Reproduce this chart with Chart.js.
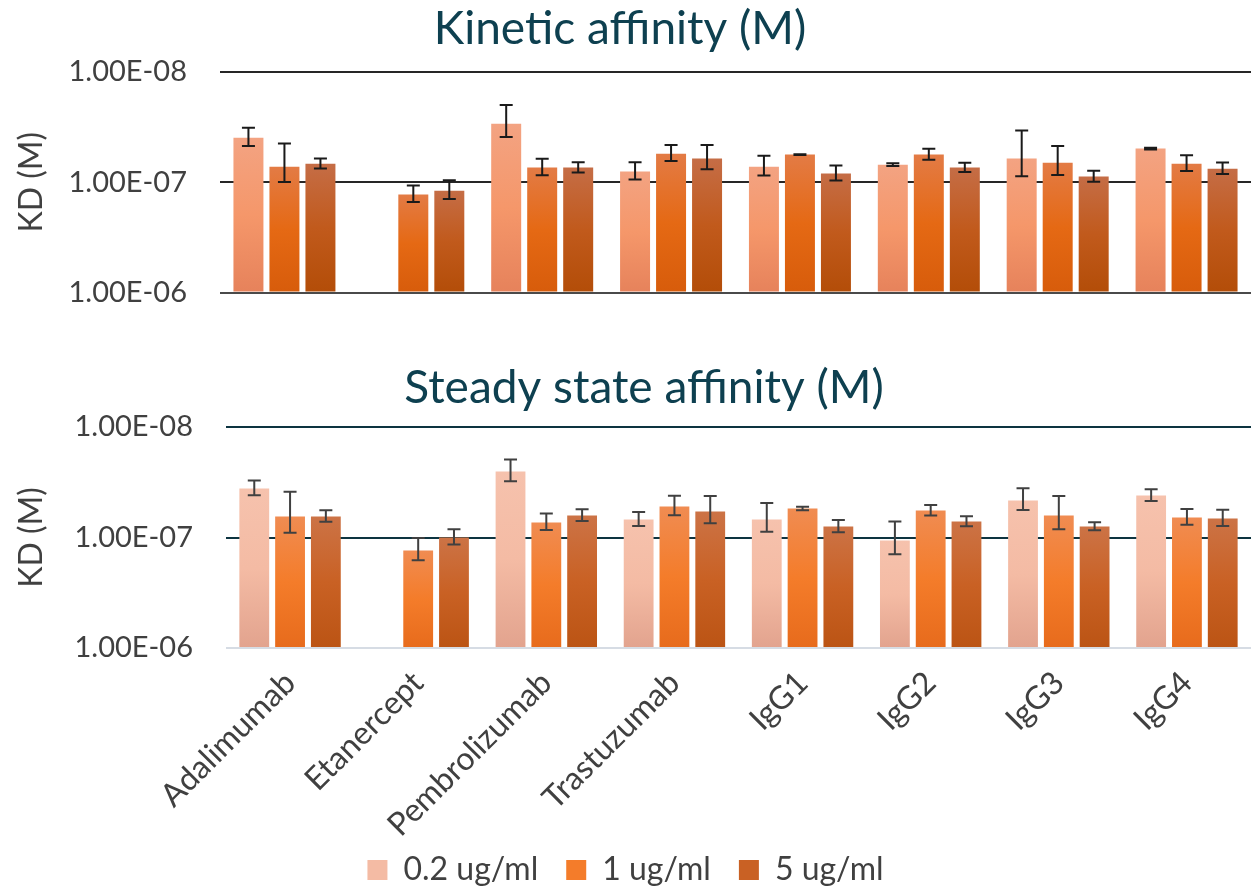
<!DOCTYPE html>
<html>
<head>
<meta charset="utf-8">
<script src="https://cdn.jsdelivr.net/npm/chart.js@4.4.1/dist/chart.umd.min.js"></script>
<style>
  html, body { margin: 0; padding: 0; background: #fff; overflow: hidden; }
  #wrap { position: relative; width: 1251px; height: 886px; overflow: hidden; }
  canvas { position: absolute; left: 0; }
  #kinetic { top: 0; }
  #steady { top: 330px; }
</style>
</head>
<body>
<div id="wrap">
  <canvas id="kinetic" width="1251" height="343"></canvas>
  <canvas id="steady" width="1251" height="566"></canvas>
</div>
<script>
// categories and series
const categories = ['Adalimumab', 'Etanercept', 'Pembrolizumab', 'Trastuzumab', 'IgG1', 'IgG2', 'IgG3', 'IgG4'];
const seriesLabels = ['0.2 ug/ml', '1 ug/ml', '5 ug/ml'];

// y axis ticks (KD in M, log scale, reversed)
const yTickValues = [1e-8, 1e-7, 1e-6];
const yTickLabels = ['1.00E-08', '1.00E-07', '1.00E-06'];

// Kinetic affinity KD values and errors
const kinetic02 = [3.94e-8, null, 2.94e-8, 8.0e-8, 7.21e-8, 6.92e-8, 6.1e-8, 4.95e-8];
const kinetic02Err = [0.74e-8, null, 0.95e-8, 1.43e-8, 1.45e-8, 0.2e-8, 2.7e-8, 0.1e-8];
const kinetic1 = [7.21e-8, 1.29e-7, 7.36e-8, 5.5e-8, 5.61e-8, 5.61e-8, 6.64e-8, 6.78e-8];
const kinetic1Err = [2.75e-8, 2.2e-8, 1.25e-8, 0.9e-8, 0.05e-8, 0.64e-8, 1.95e-8, 1.1e-8];
const kinetic5 = [6.78e-8, 1.19e-7, 7.36e-8, 6.1e-8, 8.34e-8, 7.36e-8, 8.87e-8, 7.52e-8];
const kinetic5Err = [0.7e-8, 2.3e-8, 0.78e-8, 1.5e-8, 1.3e-8, 0.7e-8, 1.0e-8, 0.9e-8];

// Steady state affinity KD values and errors
const steady02 = [3.6e-8, null, 2.53e-8, 6.87e-8, 6.87e-8, 1.065e-7, 4.62e-8, 4.17e-8];
const steady02Err = [0.55e-8, null, 0.56e-8, 1.0e-8, 2.0e-8, 3.5e-8, 1.03e-8, 0.51e-8];
const steady1 = [6.45e-8, 1.31e-7, 7.31e-8, 5.24e-8, 5.47e-8, 5.7e-8, 6.32e-8, 6.59e-8];
const steady1Err = [2.6e-8, 3.0e-8, 1.25e-8, 1.05e-8, 0.2e-8, 0.63e-8, 2.1e-8, 1.07e-8];
const steady5 = [6.45e-8, 1.0e-7, 6.32e-8, 5.82e-8, 7.95e-8, 7.17e-8, 7.95e-8, 6.73e-8];
const steady5Err = [0.77e-8, 1.6e-8, 0.78e-8, 1.6e-8, 1.0e-8, 0.75e-8, 0.67e-8, 1.12e-8];

const FONT = 'Lato';
const TEXT = '#404040';
const BASE = 1e-6;

// per-bar vertical gradient (top, middle, bottom)
function barGradient(stops) {
    return function(context) {
        const chart = context.chart;
        const y = chart.scales.y;
        if (!y || context.raw == null) return stops[1];
        const top = y.getPixelForValue(context.raw);
        const bottom = y.getPixelForValue(BASE);
        if (!isFinite(top) || !isFinite(bottom) || top === bottom) return stops[1];
        const g = chart.ctx.createLinearGradient(0, top, 0, bottom);
        g.addColorStop(0, stops[0]);
        g.addColorStop(0.5, stops[1]);
        g.addColorStop(1, stops[2]);
        return g;
    };
}

// error bars drawn through the y scale
const errorBarPlugin = {
    id: 'errorBars',
    afterDatasetsDraw(chart, args, opts) {
        const ctx = chart.ctx;
        const y = chart.scales.y;
        ctx.save();
        ctx.strokeStyle = opts.color;
        ctx.lineWidth = opts.width;
        chart.data.datasets.forEach((ds, di) => {
            const meta = chart.getDatasetMeta(di);
            ds.data.forEach((v, i) => {
                const e = ds.errors[i];
                if (v == null || e == null) return;
                const x = meta.data[i].x;
                const y1 = y.getPixelForValue(v - e);
                const y2 = y.getPixelForValue(v + e);
                const h = opts.cap / 2;
                ctx.beginPath();
                ctx.moveTo(x, y1); ctx.lineTo(x, y2);
                ctx.moveTo(x - h, y1); ctx.lineTo(x + h, y1);
                ctx.moveTo(x - h, y2); ctx.lineTo(x + h, y2);
                ctx.stroke();
            });
        });
        ctx.restore();
    }
};

// panel heading
const panelTitlePlugin = {
    id: 'panelTitle',
    afterDraw(chart, args, opts) {
        const ctx = chart.ctx;
        ctx.save();
        ctx.font = opts.size + 'px ' + FONT;
        ctx.fillStyle = '#0e4050';
        ctx.textAlign = 'center';
        ctx.textBaseline = 'alphabetic';
        ctx.fillText(opts.text, opts.x, opts.y);
        ctx.restore();
    }
};

// let the rotated category labels run down past the legend's box edge
const labelRoomPlugin = {
    id: 'labelRoom',
    afterLayout(chart) {
        if (chart.scales.x) chart.scales.x.bottom = chart.height;
    }
};

function makeDatasets(values, errors, colors) {
    return seriesLabels.map((label, i) => ({
        label: label,
        data: values[i],
        errors: errors[i],
        base: BASE,
        backgroundColor: barGradient(colors[i]),
        barPercentage: 0.833,
        categoryPercentage: 0.838
    }));
}

function yScale(axisWidth, gridColors) {
    return {
        type: 'logarithmic',
        reverse: true,
        min: 1e-8,
        max: 1e-6,
        afterBuildTicks: (scale) => { scale.ticks = yTickValues.map(v => ({ value: v })); },
        afterFit: (scale) => { scale.width = axisWidth; },
        border: { display: false },
        grid: {
            drawTicks: false,
            lineWidth: 2,
            color: (c) => gridColors[c.index] || gridColors[0]
        },
        ticks: {
            padding: 33,
            color: TEXT,
            font: { family: FONT, size: 29 },
            callback: (v, i) => yTickLabels[i]
        },
        title: {
            display: true,
            text: 'KD (M)',
            color: TEXT,
            font: { family: FONT, size: 32 },
            padding: { top: 12, bottom: 0 }
        }
    };
}

const kineticColors = [
    ['#f3a382', '#f5976a', '#e6825b'],
    ['#e37b45', '#e56914', '#d75c0b'],
    ['#c56d46', '#c15a1c', '#b34d08']
];
const steadyColors = [
    ['#f6c2ad', '#f4bba4', '#e2a38e'],
    ['#f08c52', '#f47c2a', '#e76b1c'],
    ['#cc7346', '#c96124', '#bb5414']
];

new Chart(document.getElementById('kinetic'), {
    type: 'bar',
    data: {
        labels: categories,
        datasets: makeDatasets([kinetic02, kinetic1, kinetic5], [kinetic02Err, kinetic1Err, kinetic5Err], kineticColors)
    },
    options: {
        responsive: false,
        animation: false,
        layout: { padding: { top: 72, bottom: 0, left: 0, right: 0 } },
        scales: {
            x: { display: false },
            y: yScale(220, ['#262626', '#262626', '#4a4a4a'])
        },
        plugins: {
            legend: { display: false },
            tooltip: { enabled: false },
            errorBars: { color: '#1a1a1a', width: 2, cap: 13 },
            panelTitle: { text: 'Kinetic affinity (M)', x: 620, y: 44, size: 46 }
        }
    },
    plugins: [errorBarPlugin, panelTitlePlugin]
});

new Chart(document.getElementById('steady'), {
    type: 'bar',
    data: {
        labels: categories,
        datasets: makeDatasets([steady02, steady1, steady5], [steady02Err, steady1Err, steady5Err], steadyColors)
    },
    options: {
        responsive: false,
        animation: false,
        layout: { padding: { top: 97, bottom: 0, left: 0, right: 0 } },
        scales: {
            x: {
                border: { display: false },
                grid: { display: false },
                afterFit: (scale) => { scale.height = 178; },
                ticks: {
                    minRotation: 45,
                    maxRotation: 45,
                    padding: 8,
                    color: TEXT,
                    font: { family: FONT, size: 32 }
                }
            },
            y: yScale(226, ['#0d3440', '#0d3440', '#d6dce4'])
        },
        plugins: {
            legend: {
                position: 'bottom',
                labels: {
                    boxWidth: 20,
                    boxHeight: 20,
                    padding: 28,
                    color: TEXT,
                    font: { family: FONT, size: 32 },
                    generateLabels: (chart) => {
                        const items = Chart.defaults.plugins.legend.labels.generateLabels(chart);
                        items.forEach((it, i) => {
                            it.fillStyle = steadyColors[i][1];
                            it.strokeStyle = steadyColors[i][1];
                            it.lineWidth = 0;
                        });
                        return items;
                    }
                }
            },
            tooltip: { enabled: false },
            errorBars: { color: '#404040', width: 2, cap: 13 },
            panelTitle: { text: 'Steady state affinity (M)', x: 644, y: 73, size: 46 }
        }
    },
    plugins: [errorBarPlugin, panelTitlePlugin, labelRoomPlugin]
});
</script>
</body>
</html>
